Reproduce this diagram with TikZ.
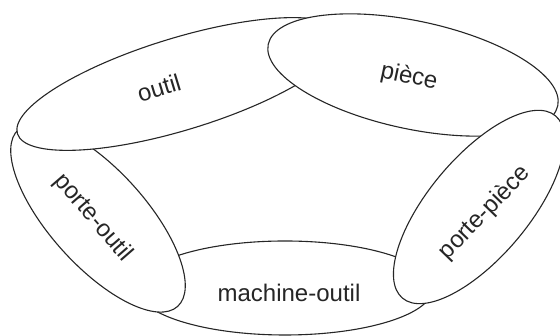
\documentclass[tikz,border=0pt]{standalone}
\usepackage{fontspec}
\setmainfont{Liberation Sans}
\usetikzlibrary{shapes.geometric}
\begin{document}
\begin{tikzpicture}[x=1pt,y=1pt,
  part/.style={ellipse, draw=black!85, line width=1.1pt, fill=white, inner sep=0pt},
  lbl/.style={font=\fontsize{24}{28}\selectfont, text=black!85, inner sep=0pt}]
\useasboundingbox (0,0) rectangle (560,336);
\node[part, minimum width=296pt, minimum height=94pt] (machine) at (285,48) {};
\node[part, minimum width=238pt, minimum height=96pt, rotate=-48] (porteoutil) at (98,118) {};
\node[part, minimum width=340pt, minimum height=92pt, rotate=17] (outil) at (180,252) {};
\node[part, minimum width=296pt, minimum height=108pt, rotate=-12] (piece) at (413,261) {};
\node[part, minimum width=238pt, minimum height=100pt, rotate=50] (portepiece) at (479,129) {};
\node[lbl, rotate=17] (outilt) at (159,248) {outil};
\node[lbl, rotate=-12] (piecet) at (409,259) {pièce};
\node[lbl, rotate=-49] (porteoutilt) at (93,118) {porte-outil};
\node[lbl, rotate=46] (portepiecet) at (485,123) {porte-pièce};
\node[lbl, anchor=base] (machinet) at (289,34) {machine-outil};
\end{tikzpicture}
\end{document}
